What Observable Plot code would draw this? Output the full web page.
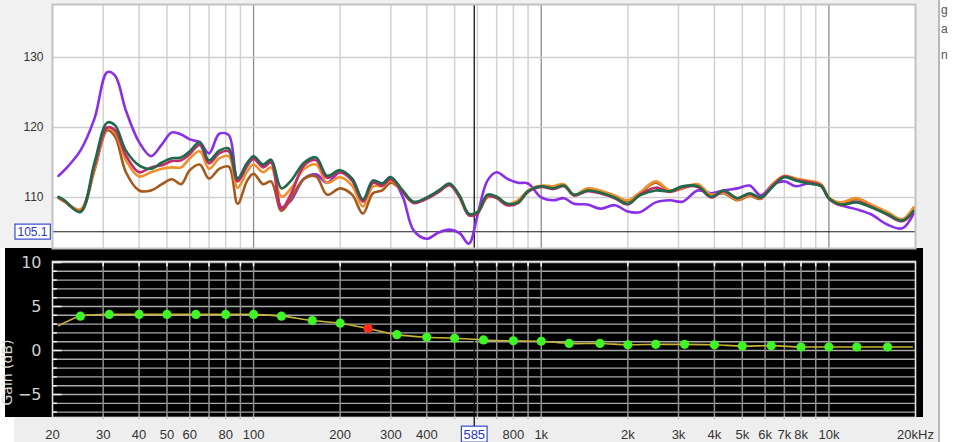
<!DOCTYPE html>
<html><head><meta charset="utf-8">
<script src="https://cdn.jsdelivr.net/npm/d3@7"></script>
<script src="https://cdn.jsdelivr.net/npm/@observablehq/plot@0.6"></script>
<style>
html,body{margin:0;padding:0;background:#fff;}
#wrap{position:relative;width:975px;height:442px;overflow:hidden;background:#fff;}
.abs{position:absolute;}
.side{position:absolute;left:941px;font:12px "Liberation Sans",Arial,sans-serif;color:#555;}
</style></head><body>
<div id="wrap">
<div class="abs" style="left:0;top:0;width:939px;height:248px;background:#f1f1f1"></div>
<div class="abs" style="left:14px;top:417px;width:925px;height:25px;background:#eeeeee"></div>
<div class="abs" style="left:915px;top:0;width:24px;height:442px;background:#efefef"></div>
<div class="abs" style="left:938px;top:0;width:2px;height:442px;background:#b8b8b8"></div>
<div class="abs" style="left:5px;top:248px;width:918px;height:169px;background:#000"></div>
<div id="top" class="abs" style="left:0;top:0"></div>
<div id="bot" class="abs" style="left:0;top:248px"></div>
<div class="side" style="top:3px">g</div>
<div class="side" style="top:22px">a</div>
<div class="side" style="top:48px">n</div>
</div>
<script>
// ---- SPL measurement curves (Hz, dB SPL) ----
const freqs = [21,22,25,28,31,33,36,40,44,48,52,56,60,65,70,76,82,88,95,100,108,115,125,135,150,165,180,200,220,240,260,280,300,330,360,400,440,480,520,560,600,650,700,760,830,900,1000,1100,1200,1300,1450,1600,1800,2000,2200,2500,2800,3100,3500,3900,4300,4800,5300,5800,6400,7000,7700,8500,9400,10000,11000,12500,14000,16000,18000,19700];

const splPurple = [113.1,113.9,116.7,121.3,127.9,127.4,122.4,117.9,115.9,117.6,119.3,119.0,118.3,117.9,116.3,119.1,118.9,112.7,114.9,115.6,114.7,115.3,108.6,109.6,112.7,113.3,112.1,113.6,112.7,109.6,112.4,112.0,112.9,110.1,105.3,104.1,105.0,105.4,104.9,103.4,107.4,112.4,113.6,112.7,112.1,112.0,110.0,109.6,109.9,109.1,109.0,108.4,108.9,108.0,107.9,109.3,109.6,109.4,111.0,110.6,111.0,111.3,111.7,110.3,111.9,112.3,111.6,112.0,111.6,109.9,108.9,108.3,107.6,106.1,105.6,107.7];
const splMagenta = [110.0,109.5,108.0,114.5,120.0,119.6,116.0,113.6,114.3,114.6,115.2,115.3,116.2,117.5,114.9,116.3,116.6,112.3,114.5,115.5,114.3,115.0,108.4,110.5,114.6,115.3,112.8,113.6,112.4,109.4,112.1,111.7,112.6,110.8,109.2,109.8,110.8,111.8,110.1,107.5,107.7,110.2,109.9,108.9,109.2,110.8,111.5,111.2,111.6,110.3,110.9,110.6,109.9,109.0,110.4,111.4,110.8,111.5,111.5,110.0,110.9,109.9,110.5,110.0,111.8,113.0,112.5,112.2,111.7,109.8,108.9,109.4,108.7,107.5,106.6,108.0];
const splBrown = [109.9,109.4,108.1,113.9,119.6,118.7,113.6,111.0,111.0,111.9,112.6,111.9,113.9,114.7,112.7,114.1,114.4,109.1,112.4,113.4,111.9,112.3,108.1,109.9,112.7,113.0,110.4,111.3,110.4,107.7,110.6,111.0,112.1,110.9,109.3,109.9,110.8,111.8,110.0,107.5,107.8,110.0,110.0,109.0,109.5,110.9,111.6,111.5,111.8,110.3,111.2,110.9,110.2,109.5,110.6,112.1,110.9,111.3,111.8,110.3,110.6,109.6,110.2,109.8,111.9,113.0,112.6,112.3,111.8,109.9,109.2,109.8,108.9,107.8,106.8,108.5];
const splOrange = [109.9,109.4,108.3,114.1,119.9,119.3,115.3,113.0,113.6,114.1,114.3,114.3,115.6,116.6,114.1,115.6,115.9,111.4,113.7,114.7,113.6,114.3,110.1,111.3,114.1,114.7,112.1,112.9,111.7,108.7,111.6,111.6,112.4,110.9,109.3,109.9,110.9,111.9,110.1,107.6,107.9,110.1,110.1,109.1,109.6,111.0,111.7,111.6,111.9,110.4,111.3,111.0,110.3,109.6,110.7,112.3,111.0,111.4,111.9,110.4,110.7,109.7,110.3,109.9,112.0,113.1,112.7,112.4,111.9,110.0,109.3,109.9,109.0,107.9,106.9,108.6];
const splGreen = [110.1,109.6,107.9,115.0,120.7,120.3,116.7,114.6,114.1,115.0,115.6,115.7,116.6,117.9,115.3,116.7,117.0,112.7,114.9,115.9,114.7,115.4,111.3,112.4,115.0,115.7,113.1,113.9,112.7,109.7,112.4,112.0,112.9,111.0,109.4,110.0,111.0,112.0,110.3,107.7,107.9,110.4,110.1,109.1,109.3,110.9,111.6,111.3,111.7,110.4,111.0,110.7,110.0,109.1,110.3,111.0,110.9,111.6,111.6,110.1,111.0,109.9,110.6,110.0,111.6,112.9,112.4,112.0,111.6,109.9,109.0,109.3,108.6,107.6,106.7,108.1];

// ---- EQ (1/3-octave bands, gain dB) ----
const eqFreqs = [25,31.5,40,50,63,80,100,125,160,200,250,315,400,500,630,800,1000,1250,1600,2000,2500,3150,4000,5000,6300,8000,10000,12500,16000];
const eqGains = [3.9,4.1,4.1,4.1,4.1,4.1,4.1,3.9,3.4,3.1,2.5,1.8,1.5,1.4,1.2,1.1,1.05,0.8,0.8,0.65,0.7,0.7,0.65,0.5,0.55,0.4,0.4,0.4,0.4];
const eqStart = {f: 21, g: 2.8};
const eqEnd = {f: 19500, g: 0.4};
const selectedBand = 250;

// ---- axes / ticks ----
const minorGrid = [30,40,50,60,70,80,90,200,300,400,500,600,700,800,900,2000,3000,4000,5000,6000,7000,8000,9000];
const decadeGrid = [100,1000,10000];
const splGrid = [110,120,130];
const gainGrid = [-7,-6,-5,-4,-3,-2,-1,0,1,2,3,4,5,6,7,8,9,10];
const gainLabels = [10,5,0,-5];
const freqTicks = [20,30,40,50,60,80,100,200,300,400,800,1000,2000,3000,4000,5000,6000,7000,8000,10000,20000];
const freqTickLabels = ["20","30","40","50","60","80","100","200","300","400","800","1k","2k","3k","4k","5k","6k","7k","8k","10k","20kHz"];
const cursorFreq = 585;
const cursorSpl = 105.1;

const series = [
  {values: splPurple, color: "#8a2ee8"},
  {values: splBrown, color: "#a5591c"},
  {values: splOrange, color: "#f0902a"},
  {values: splMagenta, color: "#c42a6a"},
  {values: splGreen, color: "#1f6a48"}
];

const font = "'Liberation Sans', Arial, sans-serif";

const topChart = Plot.plot({
  width: 975, height: 248,
  marginLeft: 52, marginRight: 60, marginTop: 4, marginBottom: 0,
  style: {background: "transparent", fontFamily: font, fontSize: "12px", color: "#333", overflow: "visible"},
  x: {type: "log", domain: [20, 20000], axis: null},
  y: {domain: [102.71, 137.57], axis: null},
  marks: [
    Plot.frame({fill: "#fff"}),
    Plot.ruleX(minorGrid, {stroke: "#d2d2d2", strokeWidth: 1.5}),
    Plot.ruleX(decadeGrid, {stroke: "#8c8c8c", strokeWidth: 1.3}),
    Plot.ruleY(splGrid, {stroke: "#d0d0d0", strokeWidth: 1.5}),
    Plot.ruleY([cursorSpl], {stroke: "#1a1a1a", strokeWidth: 1.2}),
    Plot.ruleX([cursorFreq], {stroke: "#111", strokeWidth: 1.3}),
    ...series.map(s => Plot.line(freqs.map((f, i) => ({f, db: s.values[i]})), {
      x: "f", y: "db", stroke: s.color, strokeWidth: 2.6, curve: "catmull-rom"
    })),
    Plot.frame({stroke: "#c2c2c2", strokeWidth: 2}),
    Plot.axisY(splGrid, {tickSize: 0, tickPadding: 9, label: null, fill: "#333"}),
    Plot.text([cursorSpl], {x: 20, y: d => d, text: d => d.toFixed(1), textAnchor: "end", dx: -5, fill: "#2b35c4", fontSize: 12})
  ]
});

const eqCurve = [eqStart, ...eqFreqs.map((f, i) => ({f, g: eqGains[i]})), eqEnd];
const eqBands = eqFreqs.map((f, i) => ({f, g: eqGains[i]}));
const allGrid = [...minorGrid, ...decadeGrid].sort((a, b) => a - b);

const botChart = Plot.plot({
  width: 975, height: 194,
  marginLeft: 52, marginRight: 60, marginTop: 13, marginBottom: 25,
  style: {background: "transparent", fontFamily: font, fontSize: "13px", color: "#333", overflow: "visible"},
  x: {type: "log", domain: [20, 20000], axis: null},
  y: {domain: [-7.61, 10.11], axis: null},
  marks: [
    Plot.ruleY(gainGrid, {stroke: "#a9a9a9", strokeWidth: 1.4}),
    Plot.ruleX(allGrid, {stroke: "#8e8e8e", strokeWidth: 1.5, insetBottom: -2}),
    Plot.ruleX(allGrid, {x: d => d, y1: 10.11, y2: 9.5, stroke: "#f2f2f2", strokeWidth: 1.6}),
    Plot.ruleY(gainGrid, {y: d => d, x1: 20, x2: d => d % 5 === 0 ? 21.6 : 20.8, stroke: "#eeeeee", strokeWidth: 1.5}),
    Plot.frame({stroke: "#e4e4e4", strokeWidth: 1.6}),
    Plot.ruleX([cursorFreq], {stroke: "#111", strokeWidth: 1.3, insetBottom: -12}),
    Plot.line(eqCurve, {x: "f", y: "g", stroke: "#c9b43a", strokeWidth: 1.6, curve: "catmull-rom"}),
    Plot.dot(eqBands, {x: "f", y: "g", r: 4.6, fill: d => d.f === selectedBand ? "#ff2b1c" : "#3ef526"}),
    Plot.text(gainLabels, {x: 20, y: d => d, text: d => d < 0 ? "\u2212" + Math.abs(d) : String(d), textAnchor: "end", dx: -11, fill: "#cfcfcf", fontSize: 16, fontFamily: "DejaVu Sans"}),
    Plot.text(["Gain (dB)"], {x: 20, y: -2.5, text: d => d, rotate: -90, dx: -45, fill: "#d8d8d8", fontSize: 14, fontFamily: "DejaVu Sans"}),
    Plot.text(freqTicks.map((f, i) => ({f, label: freqTickLabels[i]})), {x: "f", y: -7.61, text: "label", dy: 17, fill: "#333", fontSize: 13}),
    Plot.text([cursorFreq], {x: d => d, y: -7.61, text: d => String(d), dy: 17, fill: "#2535c8", fontSize: 13})
  ]
});

document.getElementById("top").appendChild(topChart);
document.getElementById("bot").appendChild(botChart);

function boxLabel(svg, label, pad) {
  svg.querySelectorAll("text").forEach(t => {
    if (t.textContent !== label) return;
    const b = t.getBBox();
    const r = document.createElementNS("http://www.w3.org/2000/svg", "rect");
    r.setAttribute("x", b.x - pad);
    r.setAttribute("y", b.y - 0.5);
    r.setAttribute("width", b.width + 2 * pad);
    r.setAttribute("height", b.height + 1);
    r.setAttribute("fill", "#fff");
    r.setAttribute("stroke", "#3a48d0");
    r.setAttribute("stroke-width", "1.2");
    const tr = t.getAttribute("transform");
    if (tr) r.setAttribute("transform", tr);
    t.parentNode.insertBefore(r, t);
  });
}
boxLabel(topChart, "105.1", 2.5);
boxLabel(botChart, "585", 2);
</script>
</body></html>
